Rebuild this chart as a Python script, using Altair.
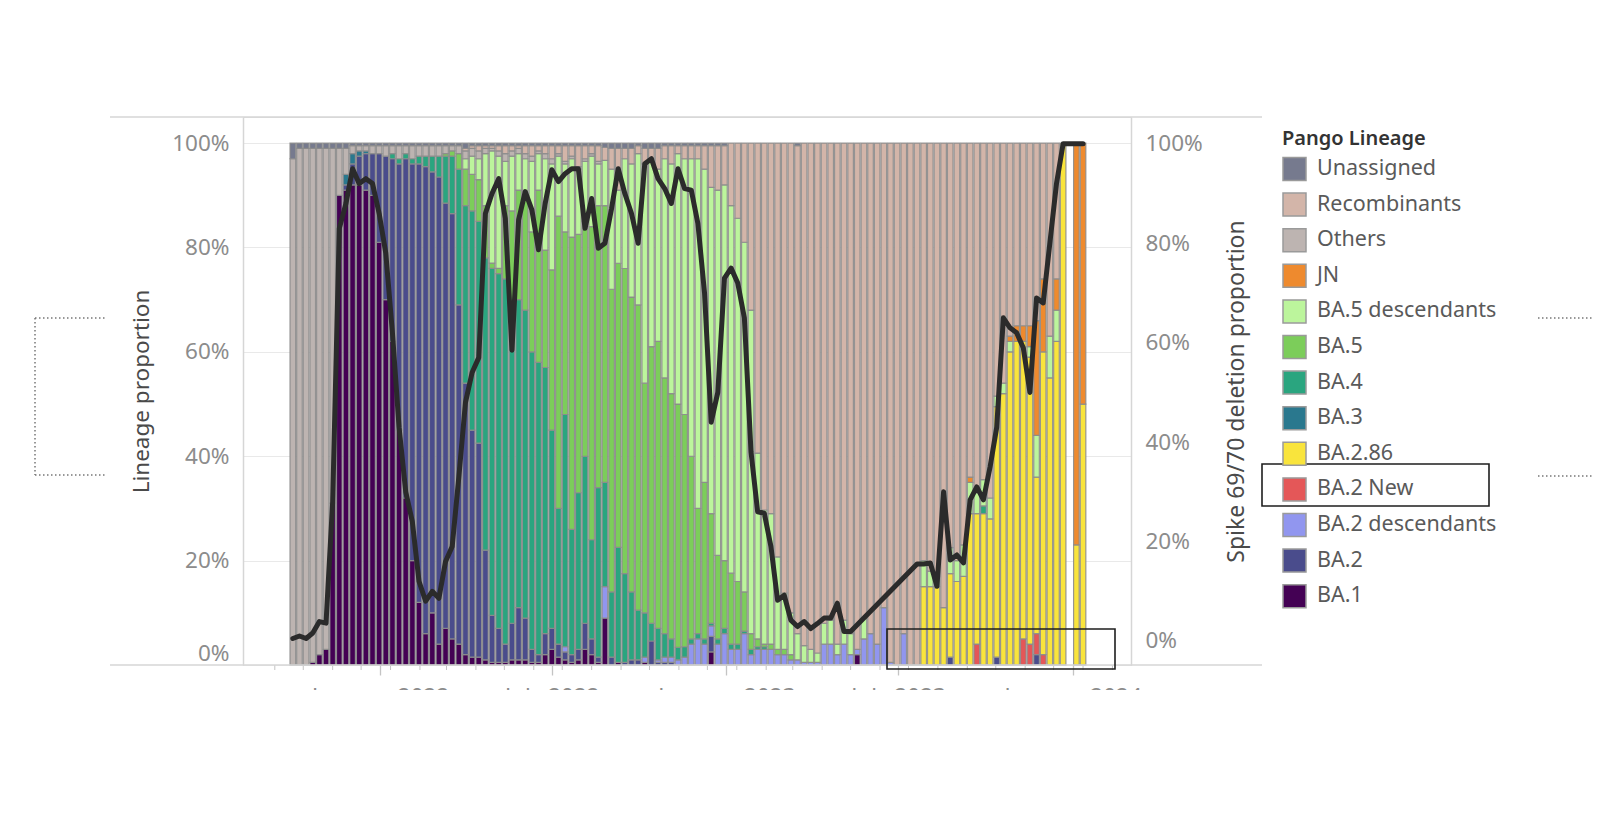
import altair as alt
import pandas as pd

# ---------------- data (percent of sequences per week) ----------------
N_WEEKS = 120
FIRST_WEEK_CENTRE = "2021-10-01"
MISSING_WEEK = 117   # no sequences reported that week

legend_order = ["Unassigned", "Recombinants", "Others", "JN", "BA.5 descendants", "BA.5",
                "BA.4", "BA.3", "BA.2.86", "BA.2 New", "BA.2 descendants", "BA.2", "BA.1"]
legend_colors = ["#767a8e", "#d3b5a9", "#bdb4b1", "#ee8a2e", "#bcf59c", "#7ccd5a",
                 "#2aa57f", "#2a788e", "#f9e43c", "#e45758", "#9196ef", "#4a4c8c", "#440154"]

BA_1 = [0, 0, 0, 0.5, 2, 3, 31, 90, 91, 92,
        92, 91, 90, 81, 70, 62, 45, 32, 20, 12,
        6, 10, 4, 7, 5, 4, 2, 1.5, 1.5, 1,
        0.5, 0.5, 0.5, 1, 1, 1, 0.5, 0.5, 2, 3,
        1.5, 1, 0.5, 1, 3, 2, 0.5, 9, 0, 0.5,
        0, 0, 0, 0.5, 0, 0, 0, 0, 0, 0,
        0, 0, 0, 2.5, 0, 0, 0, 0, 0, 0,
        0, 0, 0, 0, 0, 0, 0, 0, 0, 0,
        0, 0, 0, 0, 0, 2, 0, 0, 0, 0,
        0, 0, 0, 0, 0, 0, 0, 0, 0, 0,
        0, 0, 0, 0, 0, 0, 0, 0, 0, 0,
        0, 0, 0, 0, 0, 0, 0, 0, 0, 0]
BA_2 = [0, 0, 0, 0, 0, 0, 0, 0, 1, 4,
        5.5, 7, 8, 17, 27.5, 35, 51, 65, 76, 84,
        89.5, 84.5, 89.5, 81.5, 81.5, 65, 52, 43.5, 41, 21,
        9, 6.5, 3.5, 7, 10, 8, 2.5, 1.5, 4, 4,
        2.5, 1.5, 1.5, 2, 5, 3, 1, 0, 1.5, 0,
        0.5, 1, 1, 0, 4.6, 0.5, 0.5, 0.5, 0, 0,
        0, 0, 0, 3, 0, 0, 0, 0, 0, 0,
        0, 0, 0, 0, 0, 0, 0, 0, 0, 0,
        0, 0, 0, 0, 0, 0, 0, 0, 0, 0,
        0, 0, 0, 0, 0, 0, 0, 0, 0, 1.5,
        0, 0, 0, 0, 0, 0, 1.5, 0, 0, 0,
        0, 0, 2, 0, 0, 0, 0, 0, 0, 0]
BA_2_desc = [0, 0, 0, 0, 0, 0, 0, 0, 0, 0,
             0, 0, 0, 0, 0, 0, 0, 0, 0, 0,
             0, 0, 0, 0, 0, 0, 0, 0, 0, 0,
             0, 0, 0, 0, 0, 0, 0, 0, 0, 0,
             0, 1, 0, 0, 0, 0, 0, 6, 0, 0,
             0, 0, 0, 1, 0, 0.5, 1, 1, 1, 1.5,
             4, 5, 4, 2, 4, 6, 3, 3, 6, 2,
             3, 3, 3, 2, 2, 1, 1, 0.5, 0.5, 0.5,
             4, 4, 2, 4, 2, 1, 5, 6, 4, 11,
             0.5, 0, 6, 0, 0, 0, 0, 0, 0, 0,
             0, 0, 0, 0, 0, 0, 0, 0, 0, 0,
             0, 0, 0, 0, 0, 0, 0, 0, 0, 0]
BA_2_new = [0] * 103 + [4, 0, 0, 0, 0, 0, 0, 5, 4, 4, 2, 0, 0, 0, 0, 0, 0]
BA_2_86 = [0] * 95 + [15, 15, 15, 11, 16,
                      16, 17, 29, 25, 29, 28, 48, 52, 60, 62,
                      57, 55, 30, 58, 55, 62, 100, 0, 23, 50]
BA_3 = [0] * 8 + [2, 2, 1, 0.5] + [0] * 108
BA_4 = [0, 0, 0, 0, 0, 0, 0, 0, 0, 0,
        0, 0, 0, 0, 0, 1, 1, 1, 1, 1.5,
        2, 3, 4, 9, 11, 26, 34, 42, 42.5, 56,
        66.5, 68, 70, 61, 59, 59, 57, 56, 51, 38,
        26, 44.5, 24, 30, 32, 19, 32.5, 20, 12.5, 22,
        17, 13, 9.5, 8.5, 3.4, 6, 4.5, 3.5, 2.4, 2,
        1, 1, 1, 0.5, 1, 1, 1, 1, 0.5, 1,
        0.5, 0.5, 0, 0, 0, 0, 0, 0, 0, 0,
        0, 0, 0, 0, 0, 0, 0, 0, 0, 0,
        0, 0, 0, 0, 0, 0, 0, 0, 0, 0,
        0, 0, 0, 0, 1.5, 0, 0, 0, 0, 0,
        0, 0, 0, 0, 0, 0, 0, 0, 0, 0]
BA_5 = [0, 0, 0, 0, 0, 0, 0, 0, 0, 0,
        0, 0, 0, 0, 0, 0, 0, 0, 0, 0,
        0, 0, 0, 0.5, 1, 3, 7, 7, 8, 10,
        1, 1, 14, 18, 21, 21, 23, 33, 22.5, 30.7,
        56, 35, 56, 49.5, 45, 60, 54, 53, 58, 54.4,
        58.4, 56.5, 58.5, 44, 53, 55, 49, 47, 46.6, 44.5,
        35, 24, 30, 21, 16, 13, 13.6, 12, 7.5, 3,
        1.5, 0.5, 1, 1, 1, 1, 0, 0, 0, 0,
        0, 0, 0, 0, 0, 0, 0, 0, 0, 0,
        0, 0, 0, 0, 0, 0, 0, 0, 0, 0,
        0, 0, 0, 0, 0, 0, 0, 0, 0, 0,
        0, 0, 0, 0, 0, 0, 0, 0, 0, 0]
BA_5_desc = [0, 0, 0, 0, 0, 0, 0, 0, 0, 0,
             0, 0, 0, 0, 0, 0, 0, 0, 0, 0,
             0, 0, 0, 0, 0, 0, 2, 3.5, 4, 10,
             21.5, 21.5, 8.5, 10.5, 7, 8, 13.5, 7, 17.5, 20.3,
             11.5, 13, 15, 12.5, 11.5, 13.5, 8, 8.7, 23, 14,
             21, 25.5, 29, 42, 36, 33, 42, 44, 48, 49,
             57, 67, 60, 62.5, 70, 72, 70.4, 69.6, 67, 62,
             35.6, 25.7, 25, 17.7, 10.8, 8, 5, 3.2, 2.5, 1.8,
             4, 4.6, 2, 4.6, 4, 0, 4, 0, 0, 0,
             0, 0, 0, 0, 0, 5, 3, 2, 0, 5,
             4, 6, 6, 4, 5, 4, 2, 2, 2, 0,
             0, 2, 8, 0, 8, 6, 0, 0, 0, 0]
JN = [0] * 102 + [1, 0, 0, 0, 0, 0, 1, 3, 3, 4, 22, 14, 0, 6, 0, 0, 77, 50]
Others = [97, 99, 99, 98.5, 97, 96, 68, 9, 5, 1.5,
          1, 1, 1.5, 1.5, 2, 1.5, 2.5, 1.5, 2.5, 2,
          2, 2, 2, 1.5, 1, 1.5, 1.5, 1.5, 1.5, 1,
          0.5, 1, 1.5, 1, 1, 1, 1, 0.5, 1, 1,
          0.5, 0.5, 0.5, 0.5, 0.5, 0.5, 0.5] + [0] * 73
Recombinants = [0] * 26 + [0.5, 0.5, 1, 0.5,
                0.5, 1, 1.5, 1, 0.5, 1.5, 2, 1, 1.5, 2.5,
                1.5, 3, 2, 4, 2.5, 1.5, 3, 2.5, 4, 8,
                2, 3, 1.5, 3, 2, 4, 2.5, 3.5, 1.5, 2.5,
                2.5, 2.5, 4.5, 8, 8.5, 7.5, 12, 14.4, 19, 32,
                59.4, 70.3, 71, 79.3, 86.2, 90, 93.5, 96.3, 97, 97.7,
                92, 91.4, 96, 91.4, 94, 97, 91, 94, 96, 89,
                99.5, 100, 94, 100, 100, 80, 82, 83, 89, 77.5,
                80, 77, 64, 67, 64.5, 68, 48.5, 46, 37, 35,
                35, 35, 34, 26, 37, 26, 0, 0, 0, 0]
Unassigned = [3, 1, 1, 1, 1, 1, 1, 1, 1, 0.5,
              0.5, 0.5, 0.5, 0.5, 0.5, 0.5, 0.5, 0.5, 0.5, 0.5,
              0.5, 0.5, 0.5, 0.5, 0.5, 0.5, 1, 0.5, 0.5, 0.5,
              0.5, 0.5, 0.5, 0.5, 0.5, 0.5, 0.5, 0.5, 0.5, 0.5,
              0.5, 0.5, 0.5, 0.5, 0.5, 0.5, 0.5, 0.8, 1, 1,
              1, 1, 0.5, 1, 1, 1, 0.5, 0.5, 0.5, 0.5,
              0.5, 0.5, 0.5, 0.5, 0.5, 0.5, 0, 0, 0, 0,
              0, 0, 0, 0, 0, 0, 0.5] + [0] * 43

# Spike 69/70 deletion proportion (%), None = no estimate that week
spike_deletion = [0.5, 1.0, 0.5, 1.6, 3.9, 3.6, 28, 83, 88, 95,
                  92, 93, 92, 86, 78, 62, 43, 30, 24, 12,
                  8, 10, 8.6, 16, 19, 33, 48, 54, 57, 86,
                  90, 93, 85, 58.5, 84.7, 90.4, 86.7, 78.7, 88, 94.8,
                  92.4, 94, 95, 95, 83, 89, 79, 80, 87, 95,
                  90, 86, 80, 96, 97, 93, 91, 88, 95, 91,
                  90.7, 84, 70, 44, 50, 73, 75, 72, 65, 38,
                  26, 25.7, 19, 8.2, 9.2, 4.2, 2.9, 3.9, 2.5, 3.5,
                  4.6, 4.6, 7.6, 1.9, 1.9, None, None, None, None, None,
                  None, None, None, None, 15.5, 15.5, 15.7, 11, 30, 16.3,
                  17.3, 15.7, 28.4, 31, 28.4, 35, 43, 65, 63, 62,
                  59, 50, 69, 68, 80, 92, 100, None, 100, 100]

left_ticks = [0, 0.2, 0.4, 0.6, 0.8, 1.0]
right_ticks = [0, 20, 40, 60, 80, 100]
x_label_dates = ["2022-01-01", "2022-07-01", "2023-01-01", "2023-07-01", "2024-01-01"]
x_minor_tick_dates = [d.strftime("%Y-%m-%d") for d in pd.date_range("2021-09-12", "2024-02-12",
                                                                      freq=pd.DateOffset(months=1))]

# ---------------- assemble tables ----------------
stack_order = ["BA.1", "BA.2", "BA.2 descendants", "BA.2 New", "BA.2.86", "BA.3", "BA.4",
               "BA.5", "BA.5 descendants", "JN", "Others", "Recombinants", "Unassigned"]
series = {"BA.1": BA_1, "BA.2": BA_2, "BA.2 descendants": BA_2_desc, "BA.2 New": BA_2_new,
          "BA.2.86": BA_2_86, "BA.3": BA_3, "BA.4": BA_4, "BA.5": BA_5,
          "BA.5 descendants": BA_5_desc, "JN": JN, "Others": Others,
          "Recombinants": Recombinants, "Unassigned": Unassigned}
weeks = [d.strftime("%Y-%m-%d") for d in pd.date_range(FIRST_WEEK_CENTRE, periods=N_WEEKS, freq="7D")]

rows = []
for k, name in enumerate(stack_order):
    for i, v in enumerate(series[name]):
        if v > 0 and i != MISSING_WEEK:
            rows.append({"week": weeks[i], "lineage": name, "share": v, "stack": k})
bars_df = pd.DataFrame(rows)
line_df = pd.DataFrame([{"week": weeks[i], "spike": v} for i, v in enumerate(spike_deletion) if v is not None])
minor_df = pd.DataFrame({"week": x_minor_tick_dates})


def ms(s):
    return int(pd.Timestamp(s, tz="UTC").value // 10**6)


x_domain = [ms("2021-08-14 18:00"), ms("2024-02-26 07:00")]

FONT = "Noto Sans"
LABEL_GREY = "#8c8c8c"
FRAME = "#d6d6d6"
TICK = "#c4c4c4"

x_enc = alt.X("week:T", scale=alt.Scale(type="utc", domain=x_domain),
              axis=alt.Axis(values=[ms(d) for d in x_label_dates], title=None, domain=False, grid=False,
                            labelExpr="(utcmonth(datum.value) == 0 ? 'January ' : 'July ') + utcyear(datum.value)",
                            tickColor=TICK, tickSize=10, tickWidth=1.3,
                            labelPadding=10, labelFontSize=22.5, labelColor=LABEL_GREY,
                            labelFont=FONT, labelOverlap=False, labelBound=False, labelFlush=False))

bars = alt.Chart(bars_df).mark_bar(width=5.6, stroke="#8c8c8c", strokeWidth=1.2, strokeOpacity=0.9).encode(
    x=x_enc,
    y=alt.Y("share:Q", stack="normalize",
            scale=alt.Scale(domain=[0, 1.05], nice=False),
            axis=alt.Axis(values=left_ticks, format=".0%", title="Lineage proportion",
                          grid=True, gridColor="#e9e9e9", gridWidth=1,
                          domain=True, domainColor=FRAME, domainWidth=1.5, ticks=False,
                          labelPadding=14, labelFontSize=22.5, labelColor=LABEL_GREY, labelFont=FONT,
                          labelFlush=True,
                          titleFont=FONT, titleFontSize=22.5, titleFontWeight="normal", titleColor="#4a4a4a",
                          titleX=-95, titleAngle=270, titleAlign="center", titleBaseline="alphabetic")),
    color=alt.Color("lineage:N", scale=alt.Scale(domain=legend_order, range=legend_colors),
                    legend=alt.Legend(title="Pango Lineage", orient="none", legendX=1039, legendY=11.5,
                                      symbolType="square", symbolSize=529, symbolStrokeColor="#9a9a9a",
                                      symbolStrokeWidth=1.5, symbolOpacity=1,
                                      labelFont=FONT, labelFontSize=21.5, labelColor="#5a5a5a",
                                      labelOffset=10, labelLimit=400, rowPadding=6.6,
                                      titleFont=FONT, titleFontSize=20, titleFontWeight=600,
                                      titleColor="#333333", titlePadding=8, titleLimit=400, padding=0)),
    order=alt.Order("stack:Q", sort="ascending"),
)

line = alt.Chart(line_df).mark_line(color="#2b2b2b", strokeWidth=5, strokeJoin="round", strokeCap="round").encode(
    x=alt.X("week:T"),
    y=alt.Y("spike:Q", scale=alt.Scale(domain=[-4.83, 105.4], nice=False, zero=False),
            axis=alt.Axis(orient="right", values=right_ticks, labelExpr="datum.value + '%'",
                          title="Spike 69/70 deletion proportion", grid=False,
                          domain=True, domainColor=FRAME, domainWidth=1.5, ticks=False,
                          labelPadding=14, labelFontSize=22.5, labelColor=LABEL_GREY, labelFont=FONT,
                          titleFont=FONT, titleFontSize=23, titleFontWeight="normal", titleColor="#4a4a4a",
                          titleX=112, titleAngle=270, titleAlign="center", titleBaseline="alphabetic")),
)

# minor monthly ticks under the date axis
minor_ticks = alt.Chart(minor_df).mark_rule(color=TICK, strokeWidth=1).encode(
    x=alt.X("week:T"), y=alt.value(548), y2=alt.value(553))

one = pd.DataFrame({"k": [0]})


def seg(x1, y1, x2, y2, color, width, dash=None):
    props = dict(color=color, strokeWidth=width)
    if dash:
        props["strokeDash"] = dash
    return alt.Chart(one).mark_rule(**props).encode(
        x=alt.value(x1), x2=alt.value(x2), y=alt.value(y1), y2=alt.value(y2))


def box(x1, y1, x2, y2):
    return alt.Chart(one).mark_rect(fillOpacity=0, stroke="#1e1e1e", strokeWidth=1.6).encode(
        x=alt.value(x1), x2=alt.value(x2), y=alt.value(y1), y2=alt.value(y2))


cover = alt.Chart(one).mark_rect(color="white").encode(
    x=alt.value(-140), x2=alt.value(1030), y=alt.value(573), y2=alt.value(676))

decor = [
    cover,
    seg(-133, 0, 1019, 0, FRAME, 1.5),        # top frame line
    seg(-133, 548, 1019, 548, FRAME, 1.5),    # bottom frame line
    box(1019, 347, 1246, 389),                # box around "BA.2 New"
    box(644, 512, 872, 552),                  # box around recent low bars
    seg(-208, 201, -208, 358, "#777777", 1.5, [1.5, 2.5]),
    seg(-208, 201, -138, 201, "#777777", 1.5, [1.5, 2.5]),
    seg(-208, 358, -138, 358, "#777777", 1.5, [1.5, 2.5]),
    seg(1295, 201, 1349, 201, "#777777", 1.5, [1.5, 2.5]),
    seg(1295, 359, 1349, 359, "#777777", 1.5, [1.5, 2.5]),
]

chart = alt.layer(bars, line, minor_ticks, *decor).resolve_scale(y="independent").properties(
    width=888, height=548,
    padding={"left": 235, "top": 109, "right": 461, "bottom": 130},
    autosize=alt.AutoSizeParams(type="none"),
).configure_view(stroke=None).configure(font=FONT)

chart.save("out.html", embed_options={"renderer": "svg", "actions": False})
